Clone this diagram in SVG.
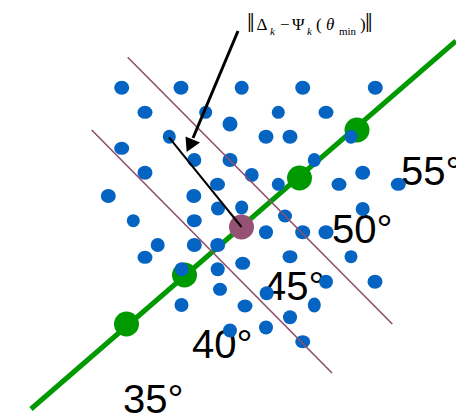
<svg xmlns="http://www.w3.org/2000/svg" width="456" height="419" viewBox="0 0 456 419">
<style>
.lbl{font-family:"Liberation Sans","Arial",sans-serif;font-size:40px;fill:#000}
.b{fill:#0563C1}
.g{fill:#009900}
.p{stroke:#8E4F6E;stroke-width:1.6;fill:none}
.f{font-family:"Liberation Serif","Times New Roman",serif;fill:#000}
</style>
<rect width="456" height="419" fill="#fff"/>
<g id="labels">
<text class="lbl" x="401" y="185">55°</text>
<text class="lbl" x="332" y="243">50°</text>
<text class="lbl" x="264" y="300">45°</text>
<text class="lbl" x="192" y="358">40°</text>
<text class="lbl" x="123" y="413">35°</text>
</g>
<g id="connectors">
<line x1="31" y1="409" x2="456" y2="41" stroke="#009900" stroke-width="5"/>
</g>
<g id="green-dots">
<circle class="g" cx="357" cy="130" r="12.5"/>
<circle class="g" cx="299.5" cy="178" r="12.5"/>
<circle class="g" cx="184.5" cy="275" r="12.5"/>
<circle class="g" cx="126.5" cy="324" r="12.5"/>
</g>
<g id="center-dot">
<circle cx="241.5" cy="227" r="12.5" fill="#955275"/>
</g>
<g id="points">
<ellipse class="b" cx="121.7" cy="87.7" rx="7.5" ry="7"/>
<ellipse class="b" cx="181" cy="87.7" rx="7.5" ry="7"/>
<ellipse class="b" cx="241.7" cy="87.7" rx="7" ry="7"/>
<ellipse class="b" cx="302.7" cy="87.7" rx="7.5" ry="7"/>
<ellipse class="b" cx="375.3" cy="87.7" rx="7.5" ry="7"/>
<ellipse class="b" cx="145" cy="112.3" rx="7.5" ry="6.5"/>
<ellipse class="b" cx="205.7" cy="112.3" rx="6.5" ry="6.5"/>
<ellipse class="b" cx="278.3" cy="112.3" rx="6.5" ry="6.5"/>
<ellipse class="b" cx="326" cy="112.3" rx="7.5" ry="6.5"/>
<ellipse class="b" cx="230" cy="124" rx="7.5" ry="7.5"/>
<ellipse class="b" cx="169.3" cy="136.7" rx="6.5" ry="7"/>
<ellipse class="b" cx="266" cy="136.7" rx="7.5" ry="7"/>
<ellipse class="b" cx="290" cy="136.7" rx="7.5" ry="7"/>
<ellipse class="b" cx="351" cy="136.7" rx="6.5" ry="7"/>
<ellipse class="b" cx="121.7" cy="148.3" rx="7.5" ry="6.5"/>
<ellipse class="b" cx="194.3" cy="160" rx="7" ry="7"/>
<ellipse class="b" cx="230" cy="160" rx="7.5" ry="7"/>
<ellipse class="b" cx="314.3" cy="160" rx="6.5" ry="7"/>
<ellipse class="b" cx="145" cy="172.7" rx="7.5" ry="7"/>
<ellipse class="b" cx="362.7" cy="172.7" rx="7.5" ry="7"/>
<ellipse class="b" cx="251.7" cy="175" rx="7" ry="7"/>
<ellipse class="b" cx="217.5" cy="184.3" rx="7.5" ry="6.5"/>
<ellipse class="b" cx="278.3" cy="184.3" rx="6.5" ry="6.5"/>
<ellipse class="b" cx="339" cy="184.3" rx="7.5" ry="6.5"/>
<ellipse class="b" cx="398.3" cy="184.3" rx="7.5" ry="6.5"/>
<ellipse class="b" cx="108.3" cy="196" rx="7.5" ry="7"/>
<ellipse class="b" cx="193.8" cy="196" rx="7.5" ry="7"/>
<ellipse class="b" cx="218" cy="208.5" rx="7" ry="7"/>
<ellipse class="b" cx="241.7" cy="207.5" rx="6.5" ry="7"/>
<ellipse class="b" cx="362.7" cy="209" rx="7" ry="7"/>
<ellipse class="b" cx="285" cy="216" rx="7" ry="6.5"/>
<ellipse class="b" cx="133.3" cy="220.7" rx="6.5" ry="6.5"/>
<ellipse class="b" cx="194.3" cy="220.7" rx="7.5" ry="6.5"/>
<ellipse class="b" cx="266" cy="232.3" rx="7" ry="7"/>
<ellipse class="b" cx="302.7" cy="232.3" rx="7.5" ry="7"/>
<ellipse class="b" cx="326" cy="232.3" rx="7.5" ry="7"/>
<ellipse class="b" cx="157.7" cy="245" rx="7" ry="7"/>
<ellipse class="b" cx="194.3" cy="245" rx="7.5" ry="7"/>
<ellipse class="b" cx="217.7" cy="245" rx="7.5" ry="7"/>
<ellipse class="b" cx="145" cy="257.3" rx="7.5" ry="6.5"/>
<ellipse class="b" cx="290" cy="256.7" rx="7.5" ry="6.5"/>
<ellipse class="b" cx="351" cy="256.7" rx="6.5" ry="6.5"/>
<ellipse class="b" cx="242.7" cy="263.3" rx="7.5" ry="6.5"/>
<ellipse class="b" cx="181.7" cy="269.3" rx="7" ry="7"/>
<ellipse class="b" cx="217.7" cy="269.3" rx="7" ry="7"/>
<ellipse class="b" cx="326" cy="281.7" rx="7" ry="7"/>
<ellipse class="b" cx="375" cy="281.7" rx="7.5" ry="7"/>
<ellipse class="b" cx="220" cy="289.3" rx="7" ry="6.5"/>
<ellipse class="b" cx="266.7" cy="293.3" rx="7" ry="7"/>
<ellipse class="b" cx="181.5" cy="305" rx="7" ry="7"/>
<ellipse class="b" cx="245" cy="306" rx="7.5" ry="6.5"/>
<ellipse class="b" cx="314.3" cy="305" rx="6.5" ry="7.5"/>
<ellipse class="b" cx="290" cy="317.3" rx="7" ry="7"/>
<ellipse class="b" cx="266" cy="327.5" rx="7" ry="7"/>
<ellipse class="b" cx="230" cy="330.5" rx="7" ry="7"/>
<ellipse class="b" cx="302.7" cy="341.7" rx="7.5" ry="6.5"/>
</g>
<g id="boundaries">
<line class="p" x1="127.7" y1="57.3" x2="392.3" y2="324"/>
<line class="p" x1="91.7" y1="130" x2="332" y2="373"/>
</g>
<g id="distance">
<line x1="169" y1="137.3" x2="241.5" y2="227" stroke="#000" stroke-width="2"/>
<line x1="238" y1="31" x2="193" y2="138" stroke="#000" stroke-width="3"/>
<polygon points="186.7,152 185.5,136.5 200,142.5" fill="#000"/>
</g>
<g id="formula">
<text class="f" x="247" y="32" font-size="27">‖</text>
<text class="f" x="256.5" y="29.5" font-size="17">Δ</text>
<text class="f" x="270" y="35" font-size="11" font-style="italic">k</text>
<text class="f" x="280" y="29.5" font-size="17">−</text>
<text class="f" x="292" y="29.5" font-size="17">Ψ</text>
<text class="f" x="307" y="35" font-size="11" font-style="italic">k</text>
<text class="f" x="316" y="29.5" font-size="17">(</text>
<text class="f" x="326" y="29.5" font-size="17" font-style="italic">θ</text>
<text class="f" x="339" y="35" font-size="11">min</text>
<text class="f" x="360" y="29.5" font-size="17">)</text>
<text class="f" x="365" y="32" font-size="27">‖</text>
</g>
</svg>
